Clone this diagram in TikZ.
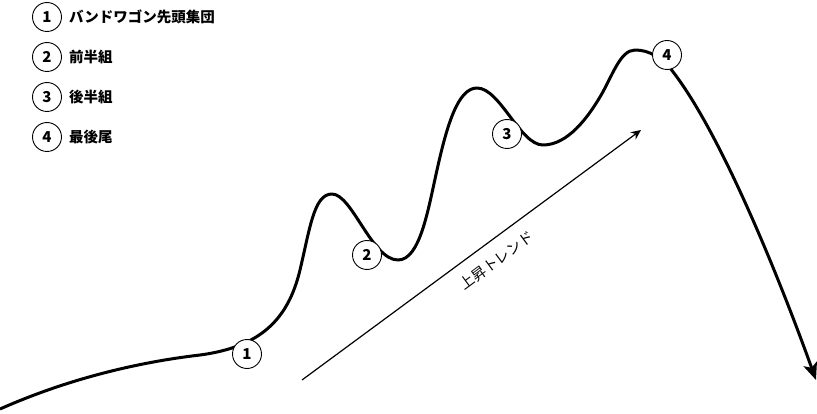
\documentclass[tikz,border=0pt]{standalone}
\usepackage{fontspec}
\usetikzlibrary{arrows.meta}
\newfontfamily\jpfont{Noto Sans CJK JP}

\begin{document}
\begin{tikzpicture}[x=1pt,y=1pt,
	numcirc/.style={circle,draw,fill=white,line width=0.9pt,minimum size=29pt,inner sep=0pt,font=\jpfont\bfseries\fontsize{15}{17}\selectfont},
	legendtext/.style={anchor=west,inner sep=0pt,font=\jpfont\bfseries\fontsize{14.5}{17}\selectfont}]

	\useasboundingbox (0,0) rectangle (817,413);

	% legend
	\node[numcirc] (l1) at (47,396) {1};
	\node[numcirc] (l2) at (47,356) {2};
	\node[numcirc] (l3) at (47,316) {3};
	\node[numcirc] (l4) at (47,276) {4};
	\node[legendtext] (t1) at (69,396) {バンドワゴン先頭集団};
	\node[legendtext] (t2) at (69,356) {前半組};
	\node[legendtext] (t3) at (69,316) {後半組};
	\node[legendtext] (t4) at (69,276) {最後尾};

	% price line
	\draw[line width=3pt,line join=round,-{Stealth[length=17pt,width=14pt,inset=4pt]}]
		(0,4) .. controls (70,35) and (140,51) .. (200,58)
		.. controls (260,66) and (288,93) .. (300,143)
		.. controls (310,185) and (314,219) .. (332,219)
		.. controls (352,219) and (372,153) .. (398,153)
		.. controls (420,153) and (428,203) .. (437,243)
		.. controls (447,288) and (458,325) .. (477,325)
		.. controls (500,325) and (520,268) .. (543,268)
		.. controls (568,268) and (588,296) .. (600,316)
		.. controls (612,336) and (620,363) .. (635,363)
		.. controls (650,363) and (660,355) .. (670,345)
		.. controls (720,283) and (780,133) .. (816,33);

	% trend
	\coordinate (trendS) at (302,33);
	\coordinate (trendE) at (641,283);
	\draw[line width=1.2pt,-{Stealth[length=10pt,width=9pt]}] (trendS) -- (trendE)
		node[pos=0.54,sloped,below=9pt,font=\jpfont\fontsize{14.5}{16}\selectfont] (trendlbl) {上昇トレンド};

	% markers on the line
	\node[numcirc] (m1) at (247,59) {1};
	\node[numcirc] (m2) at (367,158) {2};
	\node[numcirc] (m3) at (507,279) {3};
	\node[numcirc] (m4) at (667,358) {4};

\end{tikzpicture}
\end{document}
